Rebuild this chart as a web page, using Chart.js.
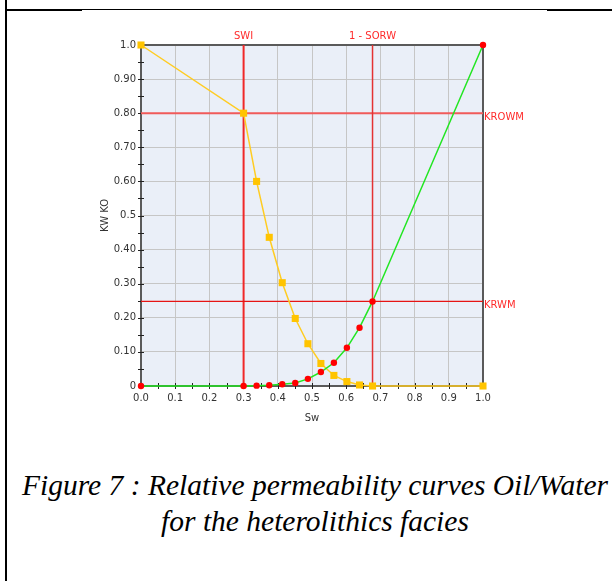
<!DOCTYPE html>
<html>
<head>
<meta charset="utf-8">
<script src="https://cdn.jsdelivr.net/npm/chart.js@4"></script>
<style>
  body { margin: 0; background: #fff; width: 612px; height: 581px; overflow: hidden; position: relative; }
  #wrap { position: absolute; left: 0; top: 0; width: 612px; height: 440px; }
  .frame { position: absolute; background: #000; }
  #caption {
    position: absolute; left: 9px; top: 467px; width: 612px;
    font-family: "Liberation Serif", serif; font-style: italic; font-size: 29.5px;
    line-height: 36px; text-align: center; color: #000; white-space: nowrap;
  }
</style>
</head>
<body>
<div class="frame" style="left:5px;top:0;width:2px;height:581px"></div>
<div class="frame" style="left:5px;top:9px;width:77px;height:2px"></div>
<div class="frame" style="left:82px;top:9px;width:465px;height:1px"></div>
<div class="frame" style="left:547px;top:9px;width:65px;height:2px"></div>
<div id="wrap"><canvas id="chart"></canvas></div>
<div id="caption">Figure 7 : Relative permeability curves Oil/Water<br>for the heterolithics facies</div>
<script>
// saturation points (Sw) shared by both curves
const sw = [0, 0.3, 0.338, 0.375, 0.413, 0.451, 0.488, 0.526, 0.564, 0.602, 0.639, 0.677, 1.0];
// oil relative permeability (KO)
const kro = [1.0, 0.80, 0.60, 0.436, 0.303, 0.198, 0.124, 0.066, 0.031, 0.013, 0.003, 0, 0];
// water relative permeability (KW)
const krw = [0, 0, 0.001, 0.002, 0.005, 0.009, 0.021, 0.041, 0.068, 0.112, 0.171, 0.248, 1.0];

// end points
const swi = 0.3;
const oneMinusSorw = 0.677;
const krowm = 0.8;
const krwm = 0.248;

const xTickLabels = ['0.0', '0.1', '0.2', '0.3', '0.4', '0.5', '0.6', '0.7', '0.8', '0.9', '1.0'];
const yTickLabels = ['0', '0.10', '0.20', '0.30', '0.40', '0.5', '0.60', '0.70', '0.80', '0.90', '1.0'];

const toPoints = (xs, ys) => xs.map((x, i) => ({x: x, y: ys[i]}));
const isMajor = v => Math.round(v * 100) % 10 === 0;
const tickLabel = (labels) => (v) => isMajor(v) ? labels[Math.round(v * 10)] : '';

// plot background, frame, little cross ticks and the red end point lines
const decor = {
  id: 'decor',
  beforeDraw(chart) {
    const {ctx, chartArea: a} = chart;
    ctx.save();
    ctx.fillStyle = '#eaeff8';
    ctx.fillRect(a.left, a.top, a.right - a.left, a.bottom - a.top);
    ctx.restore();
  },
  beforeDatasetsDraw(chart) {
    const {ctx, chartArea: a, scales: {x, y}} = chart;
    ctx.save();
    ctx.strokeStyle = '#5a5a5a';
    ctx.lineWidth = 2;
    ctx.strokeRect(a.left, a.top, a.right - a.left, a.bottom - a.top);

    ctx.strokeStyle = '#222';
    ctx.lineWidth = 1;
    ctx.beginPath();
    x.ticks.forEach(t => {
      const px = Math.round(x.getPixelForValue(t.value)) + 0.5;
      ctx.moveTo(px, a.bottom - 3); ctx.lineTo(px, a.bottom + 3);
    });
    y.ticks.forEach(t => {
      const py = Math.round(y.getPixelForValue(t.value)) + 0.5;
      ctx.moveTo(a.left - 3, py); ctx.lineTo(a.left + 3, py);
    });
    ctx.stroke();

    const vx1 = x.getPixelForValue(swi), vx2 = x.getPixelForValue(oneMinusSorw);
    const hy1 = y.getPixelForValue(krowm), hy2 = y.getPixelForValue(krwm);
    const line = (x1, y1, x2, y2, w, c) => {
      ctx.lineWidth = w;
      ctx.strokeStyle = c;
      ctx.beginPath(); ctx.moveTo(x1, y1); ctx.lineTo(x2, y2); ctx.stroke();
    };
    line(vx1, a.top, vx1, a.bottom, 2, 'rgb(240,40,40)');
    line(a.left, hy1, a.right, hy1, 2, 'rgb(240,90,90)');
    line(vx2, a.top, vx2, a.bottom, 1.5, 'rgb(228,50,50)');
    line(a.left, hy2, a.right, hy2, 1.3, 'rgb(230,20,20)');

    ctx.fillStyle = '#ff2a2a';
    ctx.font = '10px "DejaVu Sans"';
    ctx.textAlign = 'center';
    ctx.textBaseline = 'bottom';
    ctx.fillText('SWI', vx1, a.top - 4);
    ctx.fillText('1 - SORW', vx2, a.top - 4);
    ctx.textAlign = 'left';
    ctx.textBaseline = 'top';
    ctx.fillText('KROWM', a.right + 1, hy1 - 1);
    ctx.fillText('KRWM', a.right + 1, hy2 - 1);
    ctx.restore();
  }
};

const gridColor = (c) => isMajor(c.tick.value) ? '#c6c6c6' : 'rgba(0,0,0,0)';

new Chart(document.getElementById('chart'), {
  type: 'scatter',
  data: {
    datasets: [{
      label: 'KW',
      data: toPoints(sw, krw),
      showLine: true,
      borderColor: '#22e622',
      borderWidth: 1.5,
      pointStyle: 'circle',
      pointRadius: 3.2,
      pointBackgroundColor: '#ff0000',
      pointBorderWidth: 0,
      clip: false
    }, {
      label: 'KO',
      data: toPoints(sw, kro),
      showLine: true,
      borderColor: '#ffcc22',
      borderWidth: 1.5,
      pointStyle: 'rect',
      pointRadius: 5,
      pointBackgroundColor: '#ffc400',
      pointBorderWidth: 0,
      clip: false
    }]
  },
  options: {
    responsive: true,
    maintainAspectRatio: false,
    animation: false,
    events: [],
    layout: {padding: {left: 95, right: 129, top: 45, bottom: 12}},
    plugins: {legend: {display: false}, tooltip: {enabled: false}},
    scales: {
      x: {
        type: 'linear', min: 0, max: 1,
        afterFit: s => { s.height = 42; },
        border: {display: false},
        grid: {color: gridColor, drawTicks: false},
        ticks: {stepSize: 0.05, autoSkip: false, maxRotation: 0, padding: 6,
                color: '#333', font: {family: 'DejaVu Sans', size: 10},
                callback: tickLabel(xTickLabels)},
        title: {display: true, text: 'Sw', color: '#333', padding: 4,
                font: {family: 'DejaVu Sans', size: 10}}
      },
      y: {
        type: 'linear', min: 0, max: 1,
        afterFit: s => { s.width = 46; },
        border: {display: false},
        grid: {color: gridColor, drawTicks: false},
        ticks: {stepSize: 0.05, autoSkip: false, padding: 5,
                color: '#333', font: {family: 'DejaVu Sans', size: 10},
                callback: tickLabel(yTickLabels)},
        title: {display: true, text: 'KW KO', color: '#333', padding: 4,
                font: {family: 'DejaVu Sans', size: 10}}
      }
    }
  },
  plugins: [decor]
});
</script>
</body>
</html>
